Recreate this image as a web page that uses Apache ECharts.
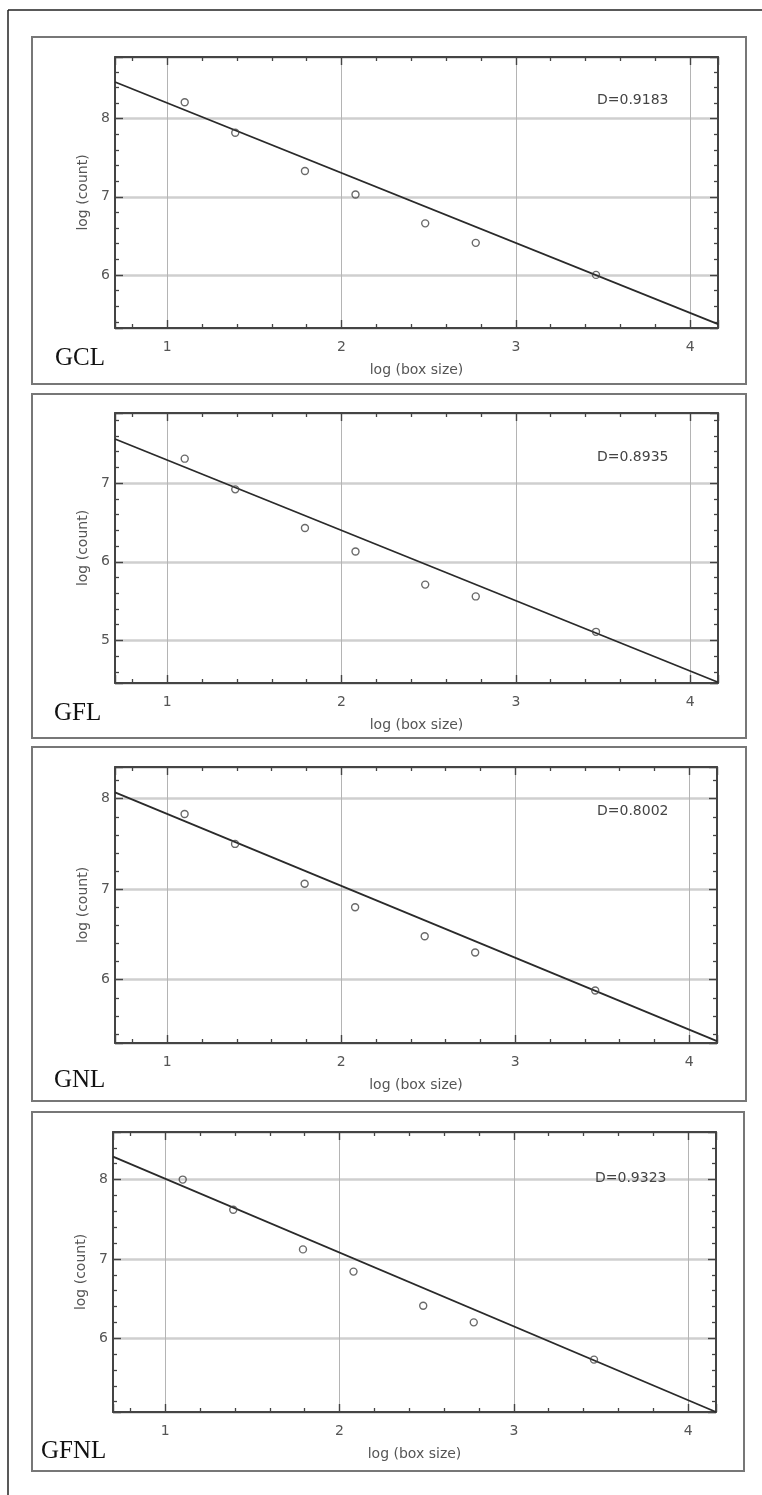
<!DOCTYPE html>
<html>
<head>
<meta charset="utf-8">
<script src="https://cdn.jsdelivr.net/npm/echarts@6/dist/echarts.min.js"></script>
<style>html,body{margin:0;padding:0;background:#fff}#c{width:762px;height:1495px}</style>
</head>
<body>
<div id="c"></div>
<script>
// ---- data ----
const boxSizeLog = [1.10, 1.39, 1.79, 2.08, 2.48, 2.77, 3.46];
const countGCL  = [8.21, 7.82, 7.33, 7.03, 6.66, 6.41, 6.00];
const countGFL  = [7.31, 6.92, 6.43, 6.13, 5.71, 5.56, 5.11];
const countGNL  = [7.83, 7.50, 7.06, 6.80, 6.48, 6.30, 5.88];
const countGFNL = [8.00, 7.62, 7.12, 6.84, 6.41, 6.20, 5.73];
const fitX      = [0.70, 4.16];
const fitGCL    = [8.47, 5.37];
const fitGFL    = [7.56, 4.47];
const fitGNL    = [8.07, 5.32];
const fitGFNL   = [8.29, 5.07];
const panelNames = ['GCL', 'GFL', 'GNL', 'GFNL'];
const dimLabels  = ['D=0.9183', 'D=0.8935', 'D=0.8002', 'D=0.9323'];
const xRange = [0.70, 4.16];
const yRanges = [[5.32, 8.79], [4.46, 7.89], [5.30, 8.35], [5.07, 8.60]];
const xAxisName = 'log (box size)';
const yAxisName = 'log (count)';

const counts = [countGCL, countGFL, countGNL, countGFNL];
const fits = [fitGCL, fitGFL, fitGNL, fitGFNL];

// ---- layout (pixels) ----
const layout = [
  { grid: { left: 115, top: 57,   width: 603, height: 271 }, box: [32, 37, 714, 347],  tag: [55, 358],  d: [597, 100] },
  { grid: { left: 115, top: 413,  width: 603, height: 270 }, box: [32, 394, 714, 344], tag: [54, 713],  d: [597, 457] },
  { grid: { left: 115, top: 767,  width: 602, height: 276 }, box: [32, 747, 714, 354], tag: [54, 1080], d: [597, 811] },
  { grid: { left: 113, top: 1132, width: 603, height: 280 }, box: [32, 1112, 712, 359], tag: [41, 1451], d: [595, 1178] }
];

const FONT = 'DejaVu Sans';
const frameColor = '#444';
const grids = [], xAxes = [], yAxes = [], series = [], graphics = [];

const tickStyle = { show: true, inside: true, length: 8, lineStyle: { color: frameColor, width: 1.4 } };
const minorStyle = { show: true, splitNumber: 5, length: 4, lineStyle: { color: frameColor, width: 1.3 } };
const intLabel = v => (Math.abs(v - Math.round(v)) < 1e-9 ? String(Math.round(v)) : '');

layout.forEach((L, i) => {
  grids.push(Object.assign({ containLabel: false }, L.grid));
  xAxes.push({
    type: 'value', gridIndex: i, position: 'bottom', min: xRange[0], max: xRange[1], splitNumber: 3,
    name: xAxisName, nameLocation: 'middle', nameGap: 35,
    nameTextStyle: { fontFamily: FONT, fontSize: 14, color: '#555' },
    axisLine: { show: true, onZero: false, lineStyle: { color: frameColor, width: 2 } },
    axisTick: tickStyle, minorTick: minorStyle,
    axisLabel: { show: true, margin: 12, fontFamily: FONT, fontSize: 14, color: '#555', formatter: intLabel, showMinLabel: false, showMaxLabel: false },
    splitLine: { show: true, lineStyle: { color: '#b4b4b4', width: 1 } }
  });
  xAxes.push({
    type: 'value', gridIndex: i, position: 'top', min: xRange[0], max: xRange[1], splitNumber: 3,
    axisLine: { show: true, onZero: false, lineStyle: { color: frameColor, width: 2 } },
    axisTick: tickStyle, minorTick: minorStyle,
    axisLabel: { show: false }, splitLine: { show: false }
  });
  yAxes.push({
    type: 'value', gridIndex: i, position: 'left', min: yRanges[i][0], max: yRanges[i][1], splitNumber: 3,
    name: yAxisName, nameLocation: 'middle', nameGap: 23,
    nameTextStyle: { fontFamily: FONT, fontSize: 14, color: '#555' },
    axisLine: { show: true, onZero: false, lineStyle: { color: frameColor, width: 2 } },
    axisTick: tickStyle, minorTick: minorStyle,
    axisLabel: { show: true, margin: 5, fontFamily: FONT, fontSize: 14, color: '#555', formatter: intLabel, showMinLabel: false, showMaxLabel: false },
    splitLine: { show: true, lineStyle: { color: '#cfcfcf', width: 2.5 } }
  });
  yAxes.push({
    type: 'value', gridIndex: i, position: 'right', min: yRanges[i][0], max: yRanges[i][1], splitNumber: 3,
    axisLine: { show: true, onZero: false, lineStyle: { color: frameColor, width: 2 } },
    axisTick: tickStyle, minorTick: minorStyle,
    axisLabel: { show: false }, splitLine: { show: false }
  });

  series.push({
    type: 'line', xAxisIndex: 2 * i, yAxisIndex: 2 * i,
    data: fitX.map((x, k) => [x, fits[i][k]]),
    showSymbol: false, symbol: 'none', clip: true, silent: true,
    lineStyle: { color: '#2a2a2a', width: 1.8 }, z: 3
  });
  series.push({
    type: 'scatter', xAxisIndex: 2 * i, yAxisIndex: 2 * i,
    data: boxSizeLog.map((x, k) => [x, counts[i][k]]),
    symbol: 'circle', symbolSize: 7, silent: true,
    itemStyle: { color: 'rgba(255,255,255,0)', borderColor: '#444', borderWidth: 1.4 }, z: 4
  });

  graphics.push({
    type: 'rect', shape: { x: L.box[0], y: L.box[1], width: L.box[2], height: L.box[3] },
    style: { fill: 'none', stroke: '#777', lineWidth: 2 }, silent: true, z: 1
  });
  graphics.push({
    type: 'text', x: L.tag[0], y: L.tag[1],
    style: { text: panelNames[i], font: '25px "Liberation Serif"', fill: '#111', textVerticalAlign: 'middle', verticalAlign: 'middle' },
    silent: true, z: 10
  });
  graphics.push({
    type: 'text', x: L.d[0], y: L.d[1],
    style: { text: dimLabels[i], font: '14px "DejaVu Sans"', fill: '#444', textVerticalAlign: 'middle', verticalAlign: 'middle' },
    silent: true, z: 10
  });
});

// outer frame (left and top edges)
graphics.push({ type: 'line', shape: { x1: 8, y1: 10, x2: 762, y2: 10 }, style: { stroke: '#222', lineWidth: 1.5 }, silent: true });
graphics.push({ type: 'line', shape: { x1: 8, y1: 10, x2: 8, y2: 1495 }, style: { stroke: '#222', lineWidth: 1.5 }, silent: true });

const chart = echarts.init(document.getElementById('c'), null, { renderer: 'canvas', width: 762, height: 1495 });
chart.setOption({
  animation: false,
  backgroundColor: '#fff',
  grid: grids,
  xAxis: xAxes,
  yAxis: yAxes,
  series: series,
  graphic: graphics
});
</script>
</body>
</html>
